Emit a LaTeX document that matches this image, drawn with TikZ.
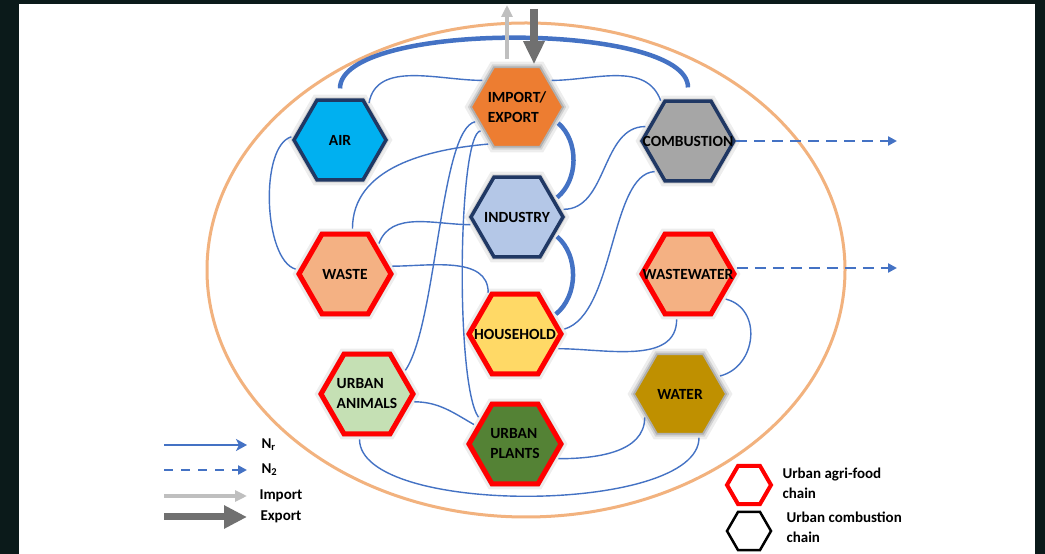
\documentclass[tikz,border=0pt]{standalone}
\usepackage{fontspec}
\setmainfont{Carlito}
\usetikzlibrary{shapes.geometric,shadows,arrows.meta}
\definecolor{nblue}{HTML}{4472C4}
\definecolor{agred}{HTML}{FF0000}
\definecolor{navy}{HTML}{203864}
\definecolor{aircol}{HTML}{00B0F0}
\definecolor{impcol}{HTML}{ED7D31}
\definecolor{combcol}{HTML}{A6A6A6}
\definecolor{indcol}{HTML}{B4C7E7}
\definecolor{peach}{HTML}{F4B183}
\definecolor{housecol}{HTML}{FFD966}
\definecolor{animcol}{HTML}{C5E0B4}
\definecolor{plantcol}{HTML}{548235}
\definecolor{watercol}{HTML}{BF9000}
\definecolor{hexgray}{HTML}{B0B0B0}
\definecolor{ringcol}{HTML}{F2B27E}
\definecolor{framecol}{HTML}{0B1A1A}
\definecolor{impgray}{HTML}{BFBFBF}
\definecolor{expgray}{HTML}{707070}

\begin{document}
\begin{tikzpicture}[x=1pt,y=1pt,>=latex,
  hexshape/.style={regular polygon,regular polygon sides=6,inner sep=0pt},
  hex/.style={hexshape,minimum size=92pt,
    general shadow={shadow scale=1.14,fill=black,opacity=.07},
    general shadow={shadow scale=1.07,fill=black,opacity=.11}},
  food/.style={hex,draw=agred,line width=5pt},
  combust/.style={hex,draw=navy,line width=3.5pt},
  other/.style={hex,draw=hexgray,line width=1.8pt},
  txt/.style={font=\fontsize{15.5}{20}\selectfont\bfseries,align=left},
  lgtext/.style={font=\fontsize{15}{20}\selectfont\bfseries,align=left,anchor=west},
  flow/.style={nblue,line width=1.4pt,shorten <=3pt,shorten >=3pt},
  bigflow/.style={nblue,line width=4.5pt,shorten <=3pt,shorten >=3pt},
  dflow/.style={nblue,line width=2.8pt,dash pattern=on 11pt off 7pt,-{Triangle[length=9pt,width=9pt]}},
  imparrow/.style={impgray,line width=4pt,-{Triangle[length=12pt,width=11pt]}},
  exparrow/.style={expgray,line width=8pt,-{Triangle[length=23pt,width=20pt]}}]
\useasboundingbox (0,0) rectangle (1045,554);
\fill[framecol] (0,0) rectangle (1045,554);
\fill[white] (19,0) rectangle (1035,550);

% city boundary
\draw[ringcol,line width=3pt] (526,284) ellipse (319 and 247);

% sectors
\node[combust,fill=aircol,label={[txt]center:AIR}] (air) at (340,414) {};
\node[other,fill=impcol,label={[txt]center:IMPORT/\\EXPORT}] (impexp) at (517,447) {};
\node[combust,fill=combcol,label={[txt]center:COMBUSTION}] (comb) at (688,413) {};
\node[combust,fill=indcol,label={[txt]center:INDUSTRY}] (ind) at (517,337) {};
\node[food,fill=peach,label={[txt]center:WASTE}] (waste) at (345,280) {};
\node[food,fill=peach,label={[txt]center:WASTEWATER}] (wwater) at (688,280) {};
\node[food,fill=housecol,label={[txt]center:HOUSEHOLD}] (house) at (515,220) {};
\node[food,fill=animcol,label={[txt]center:URBAN\\ANIMALS}] (animals) at (367,160) {};
\node[food,fill=plantcol,label={[txt]center:URBAN\\PLANTS}] (plants) at (515,110) {};
\node[other,fill=watercol,label={[txt]center:WATER}] (water) at (680,160) {};

% N flows
\draw[bigflow,shorten <=10pt,shorten >=12pt] (air.north) .. controls +(0,78) and +(0,78) .. (comb.north);
\draw[flow] (air.50) to[out=80,in=180] (impexp.140);
\draw[flow] (impexp.40) to[out=0,in=110] (comb.125);
\draw[bigflow] (impexp.-20) to[bend left=50] (ind.25);
\draw[bigflow] (ind.-25) to[bend left=50] (house.25);
\draw[flow] (ind.10) to[out=0,in=180] (comb.160);
\draw[flow] (comb.225) .. controls (610,380) and (615,240) .. (house.5);
\draw[flow] (impexp.235) to[out=185,in=90] (waste.80);
\draw[flow] (waste.40) to[out=70,in=180] (ind.190);
\draw[flow] (waste.10) to[out=0,in=90] (house.125);
\draw[flow] (impexp.200) .. controls (440,425) and (437,230) .. (animals.30);
\draw[flow] (impexp.215) .. controls (458,420) and (455,170) .. (plants.145);
\draw[flow] (animals.-10) to[out=0,in=150] (plants.155);
\draw[flow] (animals.-100) .. controls +(0,-80) and +(0,-80) .. (water.-65);
\draw[flow] (plants.-20) to[out=0,in=-90] (water.210);
\draw[flow] (house.-20) to[out=0,in=-90] (wwater.-105);
\draw[flow] (wwater.-35) .. controls +(40,-10) and +(40,10) .. (water.25);
\draw[flow] (air.175) .. controls +(-35,-10) and +(-35,10) .. (waste.175);

% N2 out of the city
\coordinate (comb-out) at (897,413);
\coordinate (ww-out) at (897,286);
\draw[dflow] (comb.east) -- (comb-out);
\draw[dflow] (wwater.east |- ww-out) -- (ww-out);

% import / export
\coordinate (imp-top) at (507,549);
\coordinate (exp-top) at (534,545);
\draw[imparrow,shorten <=7pt] (impexp.north -| imp-top) -- (imp-top);
\draw[exparrow,shorten >=2pt] (exp-top) -- (impexp.north -| exp-top);

% legend
\node[lgtext] (lg-nr) at (258,109) {N\textsubscript{r}};
\node[lgtext] (lg-n2) at (258,84) {N\textsubscript{2}};
\node[lgtext] (lg-imp) at (256,58) {Import};
\node[lgtext] (lg-exp) at (257,37) {Export};
\coordinate (lg-nr-s) at (164,109);
\coordinate (lg-n2-s) at (164,84);
\coordinate (lg-imp-s) at (164,58);
\coordinate (lg-exp-s) at (164,37);
\draw[nblue,line width=2pt,-{Stealth[length=11pt,width=12pt,inset=3pt]},shorten >=11pt] (lg-nr-s) -- (lg-nr.west);
\draw[dflow,line width=2.5pt,dash pattern=on 9pt off 8pt,shorten >=11pt] (lg-n2-s) -- (lg-n2.west);
\draw[imparrow,line width=4pt,-{Triangle[length=12pt,width=11pt]},shorten >=9pt] (lg-imp-s) -- (lg-imp.west);
\draw[exparrow,line width=7pt,-{Triangle[length=23pt,width=22pt]},shorten >=10pt] (lg-exp-s) -- (lg-exp.west);

\node[hexshape,minimum size=44pt,draw=agred,line width=4pt] (lg-food) at (749,69) {};
\node[hexshape,minimum size=44pt,draw=black,line width=2.5pt] (lg-comb) at (749,23) {};
\node[lgtext] (lg-food-t) at (779,71) {Urban agri-food\\chain};
\node[lgtext] (lg-comb-t) at (783,27) {Urban combustion\\chain};
\end{tikzpicture}
\end{document}
